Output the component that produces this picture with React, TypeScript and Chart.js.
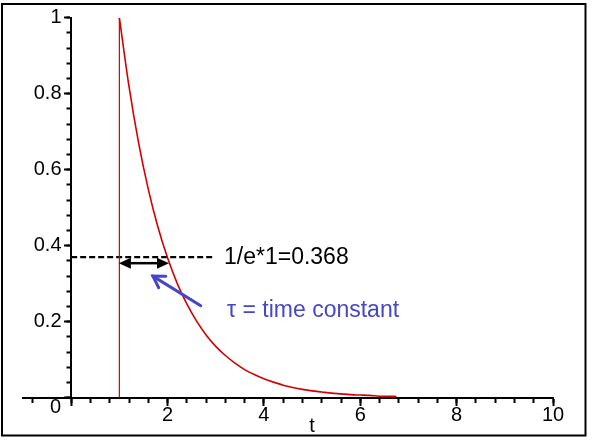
import React, { useEffect, useRef } from "react";
import { Chart, registerables } from "chart.js";

Chart.register(...registerables);

// ---- data ----
const stepTime = [1, 1];
const stepValue = [0, 1];

const decayTime = [1, 1.2, 1.4, 1.6, 1.8, 2.0, 2.2, 2.4, 2.6, 2.8, 3.0, 3.2, 3.4, 3.6, 3.8, 4.0, 4.2, 4.4, 4.6, 4.8, 5.0, 5.2, 5.4, 5.6, 5.8, 6.0, 6.2, 6.4, 6.6, 6.75];
const decayValue = [1.0, 0.819, 0.67, 0.549, 0.449, 0.368, 0.301, 0.247, 0.202, 0.165, 0.135, 0.111, 0.091, 0.074, 0.061, 0.05, 0.041, 0.033, 0.027, 0.022, 0.018, 0.015, 0.012, 0.01, 0.008, 0.007, 0.006, 0.004, 0.004, 0.003];

const refLineTime = [0, 2.93];
const refLineValue = [0.37, 0.37];

const xTickValues = [2, 4, 6, 8, 10];
const xTickLabels = ["2", "4", "6", "8", "10"];
const yTickValues = [0.2, 0.4, 0.6, 0.8, 1];
const yTickLabels = ["0.2", "0.4", "0.6", "0.8", "1"];

const axisTitle = "t";
const originLabel = "0";
const refText = "1/e*1=0.368";
const tauText = "\u03c4 = time constant";

// annotation anchors (data coordinates)
const tauSpan = { from: 0.99, to: 2.03, level: 0.354 };
const tauPointer = { tailX: 2.69, tailY: 0.242, tipX: 1.695, tipY: 0.32 };

const FONT = '"Liberation Sans", Arial, sans-serif';
const TICK_SIZE = 20;

function labelFor(values: number[], labels: string[], v: number) {
  const i = values.findIndex((t) => Math.abs(t - v) < 1e-6);
  return i >= 0 ? labels[i] : "";
}

const annotations = {
  id: "annotations",
  afterDraw(chart: any) {
    const ctx = chart.ctx as CanvasRenderingContext2D;
    const xs = chart.scales.x;
    const ys = chart.scales.y;
    const X = (v: number) => xs.getPixelForValue(v);
    const Y = (v: number) => ys.getPixelForValue(v);
    ctx.save();

    // frame
    ctx.strokeStyle = "#000";
    ctx.lineWidth = 2;
    ctx.strokeRect(2, 4, 583.5, 431.5);

    // origin label and axis title
    ctx.fillStyle = "#000";
    ctx.font = `${TICK_SIZE}px ${FONT}`;
    ctx.textAlign = "center";
    ctx.textBaseline = "alphabetic";
    ctx.fillText(originLabel, X(0) - 15.5, Y(0) + 15.5);
    ctx.fillText(axisTitle, X(5), Y(0) + 34.5);

    // double-headed arrow
    const ay = Y(tauSpan.level);
    const ax1 = X(tauSpan.from);
    const ax2 = X(tauSpan.to);
    const hl = 12;
    const hw = 5.5;
    ctx.strokeStyle = "#000";
    ctx.lineWidth = 2.5;
    ctx.beginPath();
    ctx.moveTo(ax1 + hl - 1, ay);
    ctx.lineTo(ax2 - hl + 1, ay);
    ctx.stroke();
    ctx.beginPath();
    ctx.moveTo(ax1, ay);
    ctx.lineTo(ax1 + hl, ay - hw);
    ctx.lineTo(ax1 + hl, ay + hw);
    ctx.closePath();
    ctx.fill();
    ctx.beginPath();
    ctx.moveTo(ax2, ay);
    ctx.lineTo(ax2 - hl, ay - hw);
    ctx.lineTo(ax2 - hl, ay + hw);
    ctx.closePath();
    ctx.fill();

    // blue pointer arrow
    const tx = X(tauPointer.tailX), ty = Y(tauPointer.tailY);
    const px = X(tauPointer.tipX), py = Y(tauPointer.tipY);
    const blue = "#4646c8";
    ctx.strokeStyle = blue;
    ctx.lineWidth = 3;
    ctx.lineCap = "round";
    ctx.beginPath();
    ctx.moveTo(tx, ty);
    ctx.lineTo(px, py);
    ctx.stroke();
    const ang = Math.atan2(ty - py, tx - px);
    const arm = 13;
    const spread = 0.55;
    ctx.beginPath();
    ctx.moveTo(px + arm * Math.cos(ang - spread), py + arm * Math.sin(ang - spread));
    ctx.lineTo(px, py);
    ctx.lineTo(px + arm * Math.cos(ang + spread), py + arm * Math.sin(ang + spread));
    ctx.stroke();

    // texts
    ctx.font = `23px ${FONT}`;
    ctx.textAlign = "left";
    ctx.textBaseline = "middle";
    ctx.fillStyle = "#000";
    ctx.fillText(refText, 224, Y(refLineValue[0]) + 0.5);
    ctx.fillStyle = blue;
    ctx.fillText(tauText, 227, 311);

    ctx.restore();
  },
};

export default function App() {
  const ref = useRef<HTMLCanvasElement | null>(null);

  useEffect(() => {
    if (!ref.current) return;
    const commonX = { type: "linear" as const, min: -1, max: 10, position: { y: 0 } };
    const commonY = { type: "linear" as const, min: 0, max: 1, position: { x: 0 } };
    const chart = new Chart(ref.current, {
      type: "line",
      data: {
        datasets: [
          {
            data: stepTime.map((t, i) => ({ x: t, y: stepValue[i] })),
            borderColor: "#d40000",
            borderWidth: 1.2,
            pointRadius: 0,
            tension: 0,
          },
          {
            data: decayTime.map((t, i) => ({ x: t, y: decayValue[i] })),
            borderColor: "#d40000",
            borderWidth: 1.6,
            pointRadius: 0,
            cubicInterpolationMode: "monotone",
          },
          {
            data: refLineTime.map((t, i) => ({ x: t, y: refLineValue[i] })),
            borderColor: "#000",
            borderWidth: 2.2,
            borderDash: [6, 3],
            pointRadius: 0,
            tension: 0,
          },
        ],
      },
      options: {
        animation: false,
        responsive: false,
        events: [],
        layout: { padding: { left: 23, right: 41, top: 17.7, bottom: 42.3 } },
        plugins: { legend: { display: false }, tooltip: { enabled: false } },
        scales: {
          x: {
            ...commonX,
            border: { display: true, color: "#000", width: 2 },
            grid: { display: true, drawOnChartArea: false, drawTicks: true, tickLength: 7, tickWidth: 2, tickColor: "#000" },
            ticks: {
              stepSize: 2,
              includeBounds: false,
              autoSkip: false,
              maxRotation: 0,
              color: "#000",
              font: { family: FONT, size: TICK_SIZE },
              padding: -1,
              callback: (v: any) => labelFor(xTickValues, xTickLabels, Number(v)),
            },
          },
          xMinor: {
            ...commonX,
            border: { display: true, color: "#000", width: 2 },
            grid: {
              display: true,
              drawOnChartArea: false,
              drawTicks: true,
              tickLength: 4,
              tickWidth: 2,
              tickColor: (c: any) => (c.tick && Math.abs(c.tick.value + 0.4) < 1e-6 ? "rgba(0,0,0,0)" : "#000"),
            },
            ticks: { stepSize: 0.4, includeBounds: false, autoSkip: false, display: false },
          },
          y: {
            ...commonY,
            border: { display: true, color: "#000", width: 2 },
            grid: { display: true, drawOnChartArea: false, drawTicks: true, tickLength: 6, tickWidth: 2, tickColor: "#000" },
            ticks: { stepSize: 0.2, autoSkip: false, display: false },
          },
          yMinor: {
            ...commonY,
            border: { display: true, color: "#000", width: 2 },
            grid: { display: true, drawOnChartArea: false, drawTicks: true, tickLength: 3.5, tickWidth: 2, tickColor: "#000" },
            ticks: { stepSize: 0.04, autoSkip: false, display: false },
          },
          yLabels: {
            type: "linear",
            min: 0,
            max: 1,
            position: { x: -0.2 },
            border: { display: false },
            grid: { display: false, drawTicks: false, drawOnChartArea: false },
            ticks: {
              stepSize: 0.2,
              autoSkip: false,
              color: "#000",
              font: { family: FONT, size: TICK_SIZE },
              callback: (v: any) => labelFor(yTickValues, yTickLabels, Number(v)),
            },
          },
        },
      } as any,
      plugins: [annotations],
    });
    return () => chart.destroy();
  }, []);

  return (
    <div style={{ position: "fixed", left: 0, top: 0, width: 594, height: 440, background: "#fff" }}>
      <canvas ref={ref} width={594} height={440} style={{ width: 594, height: 440, display: "block" }} />
    </div>
  );
}
